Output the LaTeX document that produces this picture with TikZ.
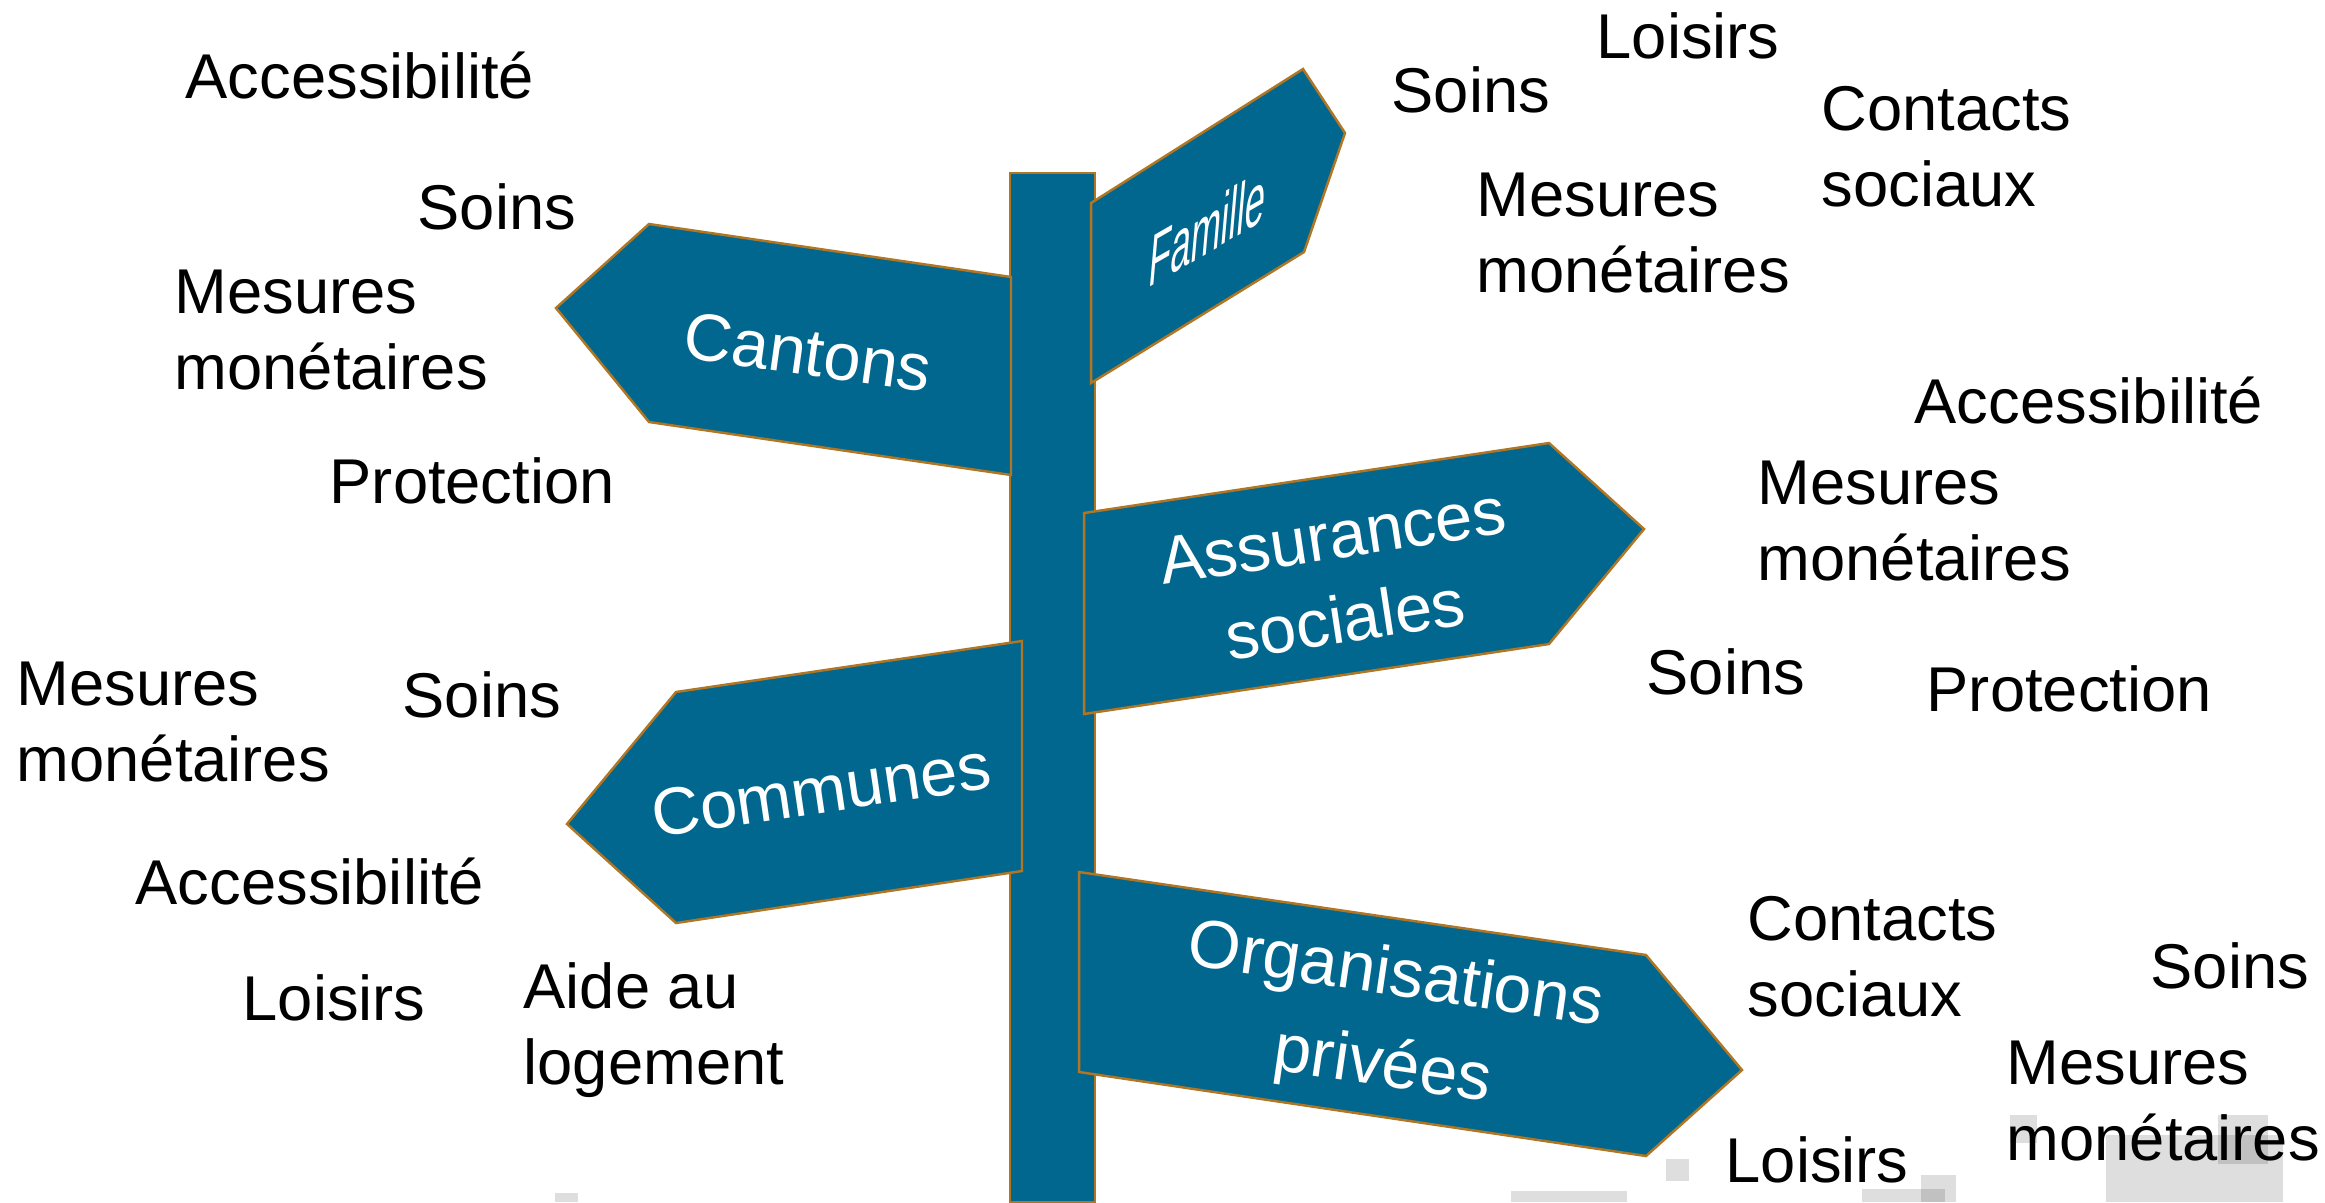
\documentclass[tikz,border=0pt]{standalone}
\usepackage{fontspec}
\setmainfont{Liberation Sans}
\definecolor{signblue}{RGB}{2,103,142}
\definecolor{signedge}{RGB}{176,118,36}
\tikzset{
  panneau/.style={fill=signblue, draw=signedge, line width=0.7pt},
  signtext/.style={text=white, inner sep=0pt, align=center, font=\fontsize{19}{24}\selectfont},
  mot/.style={anchor=base west, inner sep=0pt, align=left, font=\fontsize{18}{21.6}\selectfont},
  tache/.style={fill=black, opacity=0.13}
}
\begin{document}
\begin{tikzpicture}[x=0.01cm, y=-0.01cm]
        \useasboundingbox (0,0) rectangle (2325,1202);
        % faded squares at the bottom
        \fill[tache] (555,1193)  rectangle (578,1202);
        \fill[tache] (1511,1191) rectangle (1627,1202);
        \fill[tache] (1666,1159) rectangle (1689,1181);
        \fill[tache] (1862,1189) rectangle (1945,1202);
        \fill[tache] (1921,1175) rectangle (1956,1202);
        \fill[tache] (2010,1115) rectangle (2037,1143);
        \fill[tache] (2106,1135) rectangle (2283,1202);
        \fill[tache] (2218,1115) rectangle (2268,1164);

        % post
        \draw[panneau] (1010,173) rectangle (1095,1202);

        % signs
        \draw[panneau] (1011,277) -- (649,224) -- (556,308) -- (649,422) -- (1011,475) -- cycle;
        \draw[panneau] (1091,203) -- (1303,69) -- (1345,133) -- (1304,252) -- (1091,383) -- cycle;
        \draw[panneau] (1084,513) -- (1549,443) -- (1644,529) -- (1549,644) -- (1084,714) -- cycle;
        \draw[panneau] (1022,641) -- (676,692) -- (567,824) -- (676,923) -- (1022,871) -- cycle;
        \draw[panneau] (1079,872) -- (1646,955) -- (1742,1070) -- (1646,1156) -- (1079,1072) -- cycle;

        % sign labels
        \node[signtext, rotate=-8] (cantons) at (808,352) {Cantons};
        \node[signtext, font=\fontsize{17.5}{20}\selectfont, rotate=30, xslant=0.7, xscale=0.68] (famille) at (1208,228) {Famille};
        \node[signtext, rotate=8.6] (assurances) at (1339,578) {Assurances\\sociales};
        \node[signtext, rotate=8.4] (communes) at (821,790) {Communes};
        \node[signtext, rotate=-8.3, font=\fontsize{19.3}{26}\selectfont] (organisations) at (1389,1023) {Organisations\\privées};

        % words round the cantons
        \node[mot] (can-acc)  at (185,98)  {Accessibilité};
        \node[mot] (can-soin) at (417,229) {Soins};
        \node[mot] (can-mes)  at (174,389) {Mesures\\monétaires};
        \node[mot] (can-prot) at (329,503) {Protection};
        % words round the family
        \node[mot] (fam-lois) at (1596,58)  {Loisirs};
        \node[mot] (fam-soin) at (1391,112) {Soins};
        \node[mot] (fam-cont) at (1821,206) {Contacts\\sociaux};
        \node[mot] (fam-mes)  at (1476,292) {Mesures\\monétaires};
        % words round the social insurances
        \node[mot] (ass-acc)  at (1914,423) {Accessibilité};
        \node[mot] (ass-mes)  at (1757,580) {Mesures\\monétaires};
        \node[mot] (ass-soin) at (1646,694) {Soins};
        \node[mot] (ass-prot) at (1926,711) {Protection};
        % words round the communes
        \node[mot] (com-mes)  at (16,781)   {Mesures\\monétaires};
        \node[mot] (com-soin) at (402,717)  {Soins};
        \node[mot] (com-acc)  at (135,904)  {Accessibilité};
        \node[mot] (com-lois) at (242,1020) {Loisirs};
        \node[mot] (com-aide) at (523,1084) {Aide au\\logement};
        % words round the private organisations
        \node[mot] (org-cont) at (1747,1016) {Contacts\\sociaux};
        \node[mot] (org-soin) at (2150,988)  {Soins};
        \node[mot] (org-mes)  at (2006,1160) {Mesures\\monétaires};
        \node[mot] (org-lois) at (1725,1182) {Loisirs};
\end{tikzpicture}
\end{document}
